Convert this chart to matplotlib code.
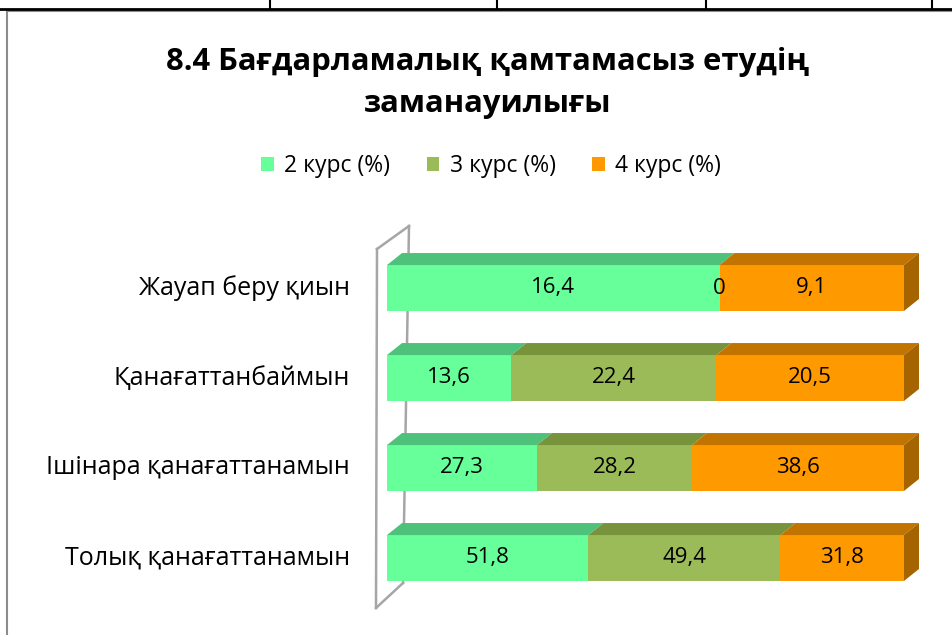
import numpy as np
import matplotlib.pyplot as plt
from matplotlib.patches import Polygon
from matplotlib.lines import Line2D

plt.rcParams['font.family'] = ['Open Sans', 'DejaVu Sans']

# -----------------------------
# data (bottom row first)
# -----------------------------
categories = ["Толық қанағаттанамын", "Ішінара қанағаттанамын",
              "Қанағаттанбаймын", "Жауап беру қиын"]
series_names = ["2 курс (%)", "3 курс (%)", "4 курс (%)"]
kurs2 = [51.8, 27.3, 13.6, 16.4]
kurs3 = [49.4, 28.2, 22.4, 0.0]
kurs4 = [31.8, 38.6, 20.5, 9.1]

front_colors = ["#66FF99", "#9BBB59", "#FF9900"]
top_colors = ["#4EC27A", "#77933C", "#C27400"]
side_color = "#A56400"

W, H = 953, 635
fig = plt.figure(figsize=(W / 100, H / 100), dpi=100)

# axes area maps 0..100 % onto the bar fronts
ax = fig.add_axes([387 / W, 1 - 603 / H, (904 - 387) / W, 360 / H])
ax.set_xlim(0, 100)
ax.set_ylim(-0.5, 3.5)
ax.axis("off")

series = np.array([kurs2, kurs3, kurs4])
totals = series.sum(axis=0)
shares = series / totals * 100
ypos = np.arange(len(categories))
bar_h = 0.51
DX, DY = 15, 12   # depth offset in pixels

# wall behind the bars (pixel space)
fig.canvas.draw()
to_disp = ax.transData.transform
x0_disp = to_disp((0, 0))[0]
wall_col = "#A6A6A6"
wall_pts_front = [(x0_disp - 10, H - 249), (x0_disp - 11, H - 608)]
wall_pts_back = [(x0_disp + 22, H - 226), (x0_disp + 16, H - 583)]
for a, b in [(wall_pts_back[0], wall_pts_back[1]),
             (wall_pts_front[0], wall_pts_front[1]),
             (wall_pts_front[0], wall_pts_back[0]),
             (wall_pts_front[1], wall_pts_back[1])]:
    fig.add_artist(Line2D([a[0], b[0]], [a[1], b[1]], transform=None,
                          color=wall_col, lw=1.8, zorder=-1))

# bars
left = np.zeros(len(categories))
for i in range(3):
    ax.barh(ypos, shares[i], left=left, height=bar_h, color=front_colors[i],
            edgecolor="none", zorder=3, label=series_names[i])
    for j in range(len(categories)):
        xa = to_disp((left[j], ypos[j] + bar_h / 2))
        xb = to_disp((left[j] + shares[i][j], ypos[j] + bar_h / 2))
        top = Polygon([xa, xb, (xb[0] + DX, xb[1] + DY), (xa[0] + DX, xa[1] + DY)],
                      closed=True, transform=None, facecolor=top_colors[i],
                      edgecolor="none", zorder=2)
        fig.add_artist(top)
        cx = left[j] + shares[i][j] / 2
        ax.text(cx, ypos[j], f"{series[i][j]:g}".replace(".", ","),
                ha="center", va="center", fontsize=16, zorder=5)
    left = left + shares[i]

# right side faces
for j in range(len(categories)):
    p_top = to_disp((100, ypos[j] + bar_h / 2))
    p_bot = to_disp((100, ypos[j] - bar_h / 2))
    side = Polygon([p_top, (p_top[0] + DX, p_top[1] + DY),
                    (p_bot[0] + DX, p_bot[1] + DY), p_bot],
                   closed=True, transform=None, facecolor=side_color,
                   edgecolor="none", zorder=2)
    fig.add_artist(side)

# category labels
for j, cat in enumerate(categories):
    yd = to_disp((0, ypos[j]))[1]
    fig.text(350 / W, yd / H, cat, ha="right", va="center", fontsize=18)

# title
fig.text(488 / W, 1 - 62 / H, "8.4 Бағдарламалық қамтамасыз етудің",
         ha="center", va="center", fontsize=22.3, fontweight="bold")
fig.text(488 / W, 1 - 104 / H, "заманауилығы",
         ha="center", va="center", fontsize=22.3, fontweight="bold")

# legend
fig.legend(loc="center", bbox_to_anchor=(491 / W, 1 - 166 / H), ncol=3,
           frameon=False, fontsize=16.5, handlelength=0.55, handleheight=0.55,
           handletextpad=0.45, columnspacing=1.6)

# chart border and table lines from the page
fig.add_artist(Line2D([7, 7], [0, H - 11], transform=None, color="#8C8C8C", lw=1.5))
fig.add_artist(Line2D([7, W], [H - 11, H - 11], transform=None, color="#8C8C8C", lw=1.5))
fig.add_artist(Line2D([0, W], [H - 9, H - 9], transform=None, color="black", lw=2))
for xv in [270, 497, 706, 932]:
    fig.add_artist(Line2D([xv, xv], [H - 9, H], transform=None, color="black", lw=1.5))

fig.savefig("out.png", dpi=100)
